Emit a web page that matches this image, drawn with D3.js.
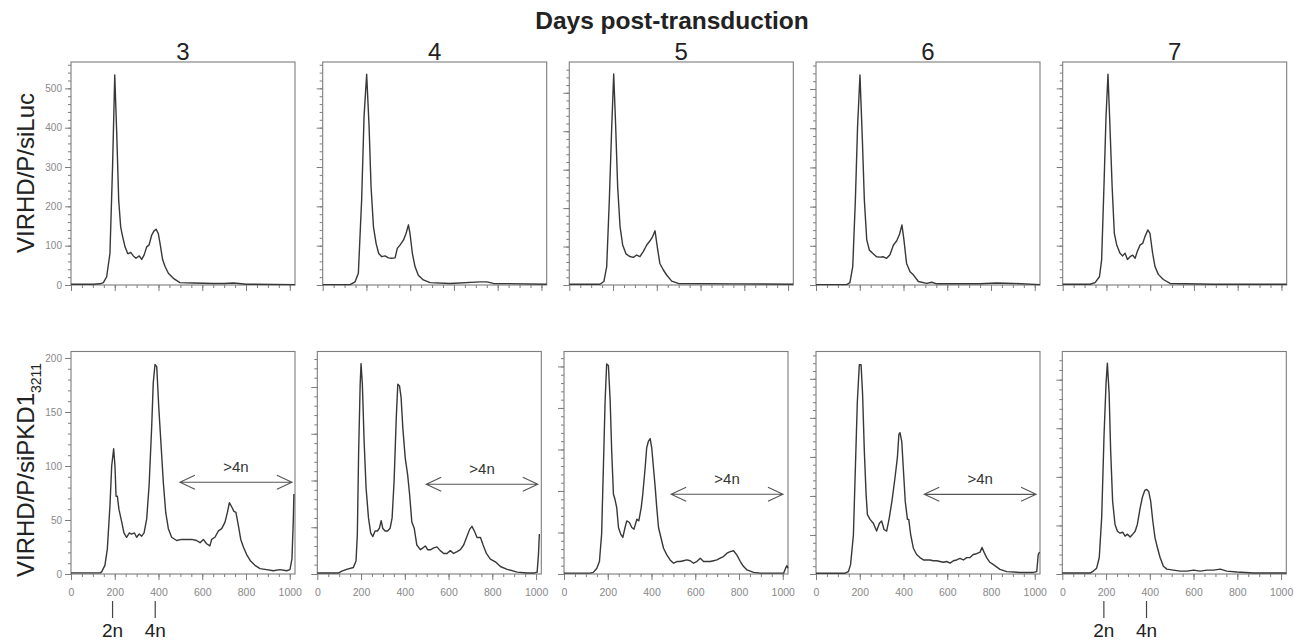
<!DOCTYPE html>
<html>
<head>
<meta charset="utf-8">
<script src="https://d3js.org/d3.v7.min.js"></script>
<style>
  body { margin: 0; background: #fff; }
  svg text { font-family: "Liberation Sans", Arial, sans-serif; }
</style>
</head>
<body>
<div class="chart"></div>
<script>
// Section 1: data ([DNA channel, cell count])
var days = ["3", "4", "5", "6", "7"];

var lucDay3 = [[0,2],[102,2],[133,3],[148,6],[163,21],[178,80],[190,301],[200,534],[209,386],[218,216],[227,148],[236,123],[247,97],[259,80],[262,80],[273,83],[285,74],[297,68],[312,74],[323,65],[334,76],[346,97],[357,102],[369,127],[379,137],[389,142],[399,131],[407,106],[419,64],[430,47],[445,30],[468,17],[498,6],[560,5],[650,4],[700,4],[742,5],[780,3],[800,2],[1024,1]];
var lucDay4 = [[0,1],[125,1],[148,8],[163,30],[178,216],[189,428],[201,536],[212,403],[221,250],[232,148],[244,106],[256,80],[270,72],[285,74],[300,69],[315,68],[331,69],[341,93],[354,102],[369,114],[381,131],[392,153],[399,131],[410,80],[422,47],[437,25],[460,13],[491,6],[582,4],[719,8],[750,8],[780,4],[1024,2]];
var lucDay5 = [[0,2],[140,2],[158,9],[171,48],[183,221],[194,412],[203,549],[212,412],[221,256],[232,152],[244,104],[259,81],[277,74],[293,72],[308,78],[323,74],[338,87],[354,104],[369,115],[381,126],[392,141],[402,100],[414,56],[430,39],[445,26],[468,10],[498,4],[750,3],[1024,2]];
var lucDay6 = [[0,1],[140,1],[155,6],[168,47],[180,217],[190,404],[201,536],[212,370],[221,217],[232,115],[244,89],[259,81],[277,72],[293,71],[308,72],[323,68],[338,77],[354,102],[369,113],[381,128],[393,153],[402,115],[414,55],[430,34],[445,26],[468,9],[506,4],[529,7],[552,3],[750,3],[826,5],[902,4],[1024,1]];
var lucDay7 = [[0,2],[125,2],[148,6],[168,21],[178,64],[189,258],[198,428],[207,536],[216,403],[226,250],[236,131],[247,102],[262,81],[274,74],[285,81],[296,65],[308,72],[320,76],[331,68],[341,85],[354,102],[366,106],[376,123],[389,140],[399,131],[411,81],[422,47],[437,27],[460,14],[491,4],[689,2],[1024,2]];

var pkdDay3 = [[0,1],[133,1],[140,2],[155,8],[166,23],[178,63],[186,100],[195,116],[201,100],[206,72],[212,72],[219,60],[232,48],[242,38],[254,34],[267,38],[277,37],[290,38],[300,34],[312,37],[323,35],[334,38],[346,51],[357,82],[369,137],[376,177],[384,194],[392,192],[401,155],[410,125],[422,85],[433,57],[445,42],[460,34],[483,31],[506,32],[529,32],[552,32],[574,31],[590,29],[605,32],[620,28],[635,26],[643,32],[658,34],[674,40],[689,42],[704,48],[715,57],[724,66],[735,62],[745,58],[754,57],[765,45],[776,32],[788,25],[803,18],[821,12],[841,8],[864,5],[894,4],[925,3],[955,4],[986,3],[1001,4],[1010,14],[1016,48],[1019,74]];
var pkdDay4 = [[0,1],[96,1],[112,3],[134,5],[165,7],[177,14],[183,42],[189,131],[196,203],[200,225],[206,203],[214,142],[223,92],[234,60],[244,44],[254,40],[264,46],[275,46],[284,49],[292,57],[299,49],[310,46],[321,46],[333,49],[342,60],[351,99],[361,167],[368,203],[376,201],[383,189],[391,156],[402,124],[413,106],[422,85],[432,56],[443,49],[455,31],[471,26],[483,28],[494,30],[504,26],[519,26],[532,28],[547,29],[562,25],[578,22],[593,22],[608,25],[623,22],[639,24],[654,26],[669,31],[684,40],[697,48],[707,51],[718,46],[730,39],[746,39],[758,31],[773,22],[791,16],[814,13],[837,8],[868,5],[914,2],[960,1],[990,1],[1005,2],[1011,21],[1015,42],[1018,42]];
var pkdDay5 = [[0,1],[119,1],[134,2],[150,7],[162,15],[172,48],[180,128],[188,209],[195,253],[203,251],[211,209],[218,148],[226,96],[233,90],[241,80],[249,56],[259,48],[269,44],[279,56],[287,64],[299,62],[310,56],[320,54],[333,66],[342,64],[353,80],[360,96],[371,128],[378,152],[386,160],[394,163],[401,152],[409,128],[417,104],[424,80],[432,56],[443,44],[455,31],[470,23],[485,17],[501,13],[516,15],[531,15],[546,16],[562,17],[577,16],[592,13],[607,15],[623,19],[638,15],[653,15],[668,15],[684,16],[699,17],[714,19],[729,21],[745,25],[760,27],[775,28],[790,23],[806,15],[821,9],[836,5],[867,2],[897,1],[958,1],[1004,1],[1013,7],[1019,10],[1024,7]];
var pkdDay6 = [[0,1],[133,1],[148,3],[158,12],[171,50],[180,136],[189,221],[198,268],[206,268],[213,230],[221,157],[229,102],[235,76],[247,70],[262,65],[277,55],[290,65],[300,68],[311,57],[323,55],[335,72],[347,93],[361,123],[372,149],[379,179],[384,181],[392,170],[399,136],[408,93],[418,70],[424,70],[433,50],[445,33],[460,25],[475,21],[491,18],[506,18],[521,18],[536,17],[552,17],[567,16],[582,15],[597,16],[613,14],[628,17],[643,18],[658,20],[674,18],[689,21],[704,21],[719,25],[734,26],[750,28],[759,34],[768,28],[780,21],[795,15],[811,12],[841,6],[872,3],[933,2],[994,2],[1009,3],[1016,25],[1022,28]];
var pkdDay7 = [[0,1],[127,1],[142,3],[157,6],[169,17],[180,58],[191,144],[200,196],[206,217],[214,186],[221,127],[230,75],[241,51],[252,44],[264,42],[276,43],[287,39],[298,41],[310,38],[322,41],[333,44],[343,51],[356,68],[366,79],[377,86],[386,87],[395,85],[404,75],[414,54],[424,37],[435,27],[447,17],[462,8],[478,5],[508,4],[539,3],[569,3],[600,4],[630,3],[661,4],[691,4],[722,5],[752,3],[798,2],[874,1],[1024,1]];

var lucData = [lucDay3, lucDay4, lucDay5, lucDay6, lucDay7];
var pkdData = [pkdDay3, pkdDay4, pkdDay5, pkdDay6, pkdDay7];

// y-axis maximum of every panel (the cytometer auto-scaled each one)
var lucYMax = [567, 567, 580, 569, 567];
var pkdYMax = [206, 238, 268, 285, 229];

var xTicks = [0, 200, 400, 600, 800, 1000];

// ">4n" double arrows on the first four siPKD1 panels
var arrowFrom = [498, 498, 490, 495];
var arrowTo = [1010, 1008, 1001, 1006];
var arrowLevel = [85, 96, 96, 102];

// 2n / 4n markers under the day 3 and day 7 siPKD1 panels
var ploidyLabels = ["2n", "4n"];
var ploidyChannels = [190, 385];

// Section 2: layout
var svgWidth = 1303;
var svgHeight = 644;
var panelW = 224;
var topLefts = [71, 322.7, 569.3, 816, 1062.7];
var bottomLefts = [71, 317.3, 564, 816, 1062.3];
var topRow = { top: 62, bottom: 285 };
var bottomRow = { top: 351.5, bottom: 574 };
var axisColor = "#7d7d7d";
var lineColor = "#383838";

var svg = d3
  .select(".chart")
  .append("svg")
  .attr("width", svgWidth)
  .attr("height", svgHeight);

function styleAxis(axisG, fontSize) {
  axisG.select(".domain").remove();
  axisG.selectAll("line").attr("stroke", axisColor);
  axisG
    .selectAll("text")
    .attr("fill", "#888")
    .style("font-size", fontSize + "px")
    .style("font-family", '"Liberation Sans", Arial, sans-serif');
}

function drawPanel(data, yMax, yStep, left, row, showX, showY) {
  var x = d3.scaleLinear().domain([0, 1024]).range([left, left + panelW]);
  var y = d3.scaleLinear().domain([0, yMax]).range([row.bottom, row.top]);
  var g = svg.append("g");

  // x axis: major and minor ticks
  var xMinor = g.append("g").attr("transform", `translate(0, ${row.bottom})`)
    .call(d3.axisBottom(x).tickValues(d3.range(50, 1024, 50)).tickSize(3).tickFormat(""));
  styleAxis(xMinor, 10);
  var xAxis = g.append("g").attr("transform", `translate(0, ${row.bottom})`)
    .call(d3.axisBottom(x).tickValues(xTicks).tickSize(6).tickPadding(9)
      .tickFormat(showX ? d3.format("d") : ""));
  styleAxis(xAxis, 10.5);

  // y axis
  var yMinor = g.append("g").attr("transform", `translate(${left}, 0)`)
    .call(d3.axisLeft(y).tickValues(d3.range(0, yMax, yStep / 5)).tickSize(3).tickFormat(""));
  styleAxis(yMinor, 10);
  var yAxis = g.append("g").attr("transform", `translate(${left}, 0)`)
    .call(d3.axisLeft(y).tickValues(d3.range(0, yMax, yStep)).tickSize(6).tickPadding(3)
      .tickFormat(showY ? d3.format("d") : ""));
  styleAxis(yAxis, 10);

  // frame
  g.append("rect")
    .attr("x", left)
    .attr("y", row.top)
    .attr("width", panelW)
    .attr("height", row.bottom - row.top)
    .attr("fill", "none")
    .attr("stroke", axisColor)
    .attr("stroke-width", 1.1);

  // histogram
  var line = d3.line().x((d) => x(d[0])).y((d) => y(d[1]));
  g.append("path")
    .datum(data)
    .attr("d", line)
    .attr("fill", "none")
    .attr("stroke", lineColor)
    .attr("stroke-width", 1.4)
    .attr("stroke-linejoin", "round");

  return { x: x, y: y, g: g };
}

// Section 3: panels
var bottomPanels = [];
days.forEach(function (day, i) {
  drawPanel(lucData[i], lucYMax[i], 100, topLefts[i], topRow, false, i === 0);
  bottomPanels.push(drawPanel(pkdData[i], pkdYMax[i], 50, bottomLefts[i], bottomRow, true, i === 0));

  svg.append("text")
    .attr("x", topLefts[i] + panelW / 2)
    .attr("y", 59.5)
    .attr("text-anchor", "middle")
    .attr("fill", "#222")
    .style("font-size", "24px")
    .text(day);
});

// >4n arrows
arrowFrom.forEach(function (from, i) {
  var p = bottomPanels[i];
  var x1 = p.x(from), x2 = p.x(arrowTo[i]), ay = p.y(arrowLevel[i]);
  var head = 15, half = 7;
  var path = `M${x1},${ay}L${x2},${ay}` +
    `M${x1 + head},${ay - half}L${x1},${ay}L${x1 + head},${ay + half}` +
    `M${x2 - head},${ay - half}L${x2},${ay}L${x2 - head},${ay + half}`;
  p.g.append("path")
    .attr("d", path)
    .attr("fill", "none")
    .attr("stroke", "#555")
    .attr("stroke-width", 1.1);
  p.g.append("text")
    .attr("x", p.x((from + arrowTo[i]) / 2))
    .attr("y", ay - 10)
    .attr("text-anchor", "middle")
    .attr("fill", "#333")
    .style("font-size", "15px")
    .text(">4n");
});

// 2n / 4n markers
[0, 4].forEach(function (pi) {
  var p = bottomPanels[pi];
  ploidyChannels.forEach(function (ch, j) {
    p.g.append("line")
      .attr("x1", p.x(ch)).attr("x2", p.x(ch))
      .attr("y1", 601).attr("y2", 618)
      .attr("stroke", "#444")
      .attr("stroke-width", 1.2);
    p.g.append("text")
      .attr("x", p.x(ch))
      .attr("y", 636.5)
      .attr("text-anchor", "middle")
      .attr("fill", "#222")
      .style("font-size", "19px")
      .text(ploidyLabels[j]);
  });
});

// titles
svg.append("text")
  .attr("x", 672)
  .attr("y", 29)
  .attr("text-anchor", "middle")
  .attr("fill", "#222")
  .style("font-size", "24.5px")
  .style("font-weight", "bold")
  .text("Days post-transduction");

svg.append("text")
  .attr("transform", "translate(33.5, 173) rotate(-90)")
  .attr("text-anchor", "middle")
  .attr("fill", "#222")
  .style("font-size", "24px")
  .text("VIRHD/P/siLuc");

var pkdLabel = svg.append("text")
  .attr("transform", "translate(33.5, 577) rotate(-90)")
  .attr("text-anchor", "start")
  .attr("fill", "#222")
  .style("font-size", "24px");
pkdLabel.append("tspan").text("VIRHD/P/siPKD1");
pkdLabel.append("tspan").attr("dy", 7).style("font-size", "14px").text("3211");
</script>
</body>
</html>
